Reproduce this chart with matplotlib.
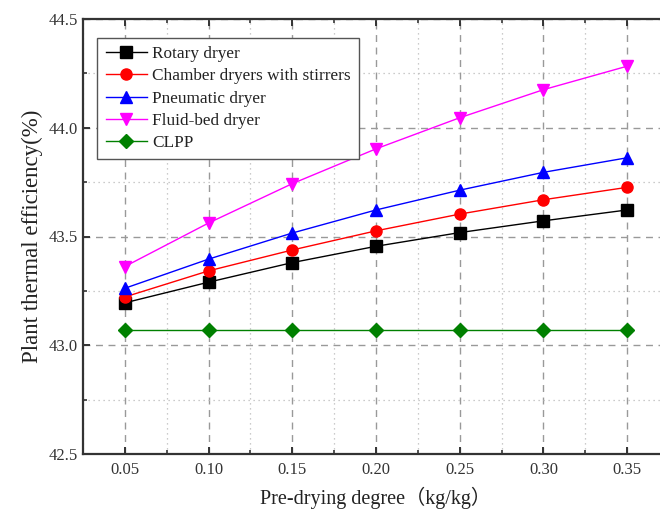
import numpy as np
import matplotlib
matplotlib.use('Agg')
import matplotlib.pyplot as plt
from matplotlib.ticker import MultipleLocator

# Data:
pre_drying = [0.05, 0.10, 0.15, 0.20, 0.25, 0.30, 0.35]
rotary = [43.195, 43.29, 43.38, 43.455, 43.518, 43.572, 43.622]
chamber = [43.222, 43.342, 43.438, 43.526, 43.603, 43.669, 43.726]
pneumatic = [43.262, 43.396, 43.516, 43.622, 43.713, 43.795, 43.862]
fluid_bed = [43.362, 43.562, 43.743, 43.903, 44.046, 44.175, 44.283]
clpp = [43.068] * 7

series_labels = ['Rotary dryer', 'Chamber dryers with stirrers',
                 'Pneumatic dryer', 'Fluid-bed dryer', 'CLPP']
series_colors = ['black', 'red', 'blue', 'magenta', 'green']
series_markers = ['s', 'o', '^', 'v', 'D']

plt.rcParams['font.family'] = ['Liberation Serif', 'Noto Sans CJK SC']

fig = plt.figure(figsize=(6.6, 5.15), dpi=100)
# Right edge of the axes lies just outside the picture, as in the reference.
ax = fig.add_axes([83 / 660, 61 / 515, 586 / 660, 435 / 515])

# Grid: dashed at major, dotted at minor positions
ax.xaxis.set_major_locator(MultipleLocator(0.05))
ax.xaxis.set_minor_locator(MultipleLocator(0.025))
ax.yaxis.set_major_locator(MultipleLocator(0.5))
ax.yaxis.set_minor_locator(MultipleLocator(0.25))
ax.grid(True, which='major', linestyle=(0, (5, 4)), color='#999999', linewidth=1.0)
ax.grid(True, which='minor', linestyle=(0, (1, 3)), color='#bbbbbb', linewidth=0.9)
ax.set_axisbelow(True)

all_series = [rotary, chamber, pneumatic, fluid_bed, clpp]
for values, label, color, marker in zip(all_series, series_labels, series_colors, series_markers):
    ax.plot(pre_drying, values, color=color, marker=marker, markersize=8 if marker != 'D' else 7,
            linewidth=1.0, label=label, markeredgecolor=color)

ax.set_xlim(0.025, 0.375)
ax.set_ylim(42.5, 44.5)
ax.set_xticks(pre_drying)
ax.set_xticklabels([f'{v:.2f}' for v in pre_drying])

# Axes frame and ticks
for side in ['left', 'bottom', 'top', 'right']:
    ax.spines[side].set_linewidth(1.6)
    ax.spines[side].set_color('#333333')
ax.tick_params(which='both', direction='in', top=True, right=False,
               labelsize=12, labelcolor='#333333', color='#333333')
ax.tick_params(which='major', length=5, width=1.4)
ax.tick_params(which='minor', length=3, width=1.2)
ax.tick_params(axis='x', which='major', pad=6)

ax.set_xlabel('Pre-drying degree（kg/kg）', fontsize=14.5, color='#222222', labelpad=6)
ax.set_ylabel('Plant thermal efficiency(%)', fontsize=16.5, color='#222222', labelpad=4)

legend = ax.legend(loc='upper left', bbox_to_anchor=(0.024, 0.957), borderaxespad=0,
                   fontsize=12.4, fancybox=False, edgecolor='#555555', framealpha=1.0,
                   handlelength=2.4, borderpad=0.5, labelspacing=0.35, handletextpad=0.3)
legend.get_frame().set_linewidth(1.0)
for text in legend.get_texts():
    text.set_color('#222222')

fig.savefig('out.png', dpi=100)
